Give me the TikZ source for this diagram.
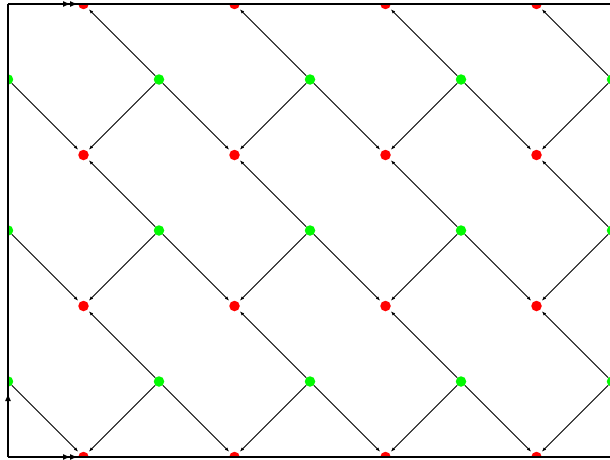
\documentclass[tikz,border=0pt]{standalone}
\usetikzlibrary{arrows.meta,decorations.markings}
\definecolor{dotred}{RGB}{255,0,0}
\definecolor{dotgreen}{RGB}{0,250,0}
\tikzset{
  reddot/.style={circle,fill=dotred,draw=none,inner sep=0pt,minimum size=10.5pt},
  greendot/.style={circle,fill=dotgreen,draw=none,inner sep=0pt,minimum size=10.5pt},
  edge/.style={draw=black,line width=0.8pt,-{Latex[length=4.5pt,width=3.4pt]},shorten >=2pt},
  frameline/.style={line width=1.8pt,black},
  fronttip/.tip={Latex[length=8pt,width=6pt]}
}
\begin{document}
\begin{tikzpicture}[x=75.5pt,y=75.5pt]
\useasboundingbox (-8pt,-2pt) rectangle (602pt,457pt);
\begin{scope}
  \clip (0,0) rectangle (8,6);
  \foreach \x in {1,3,5,7} \foreach \y in {0,2,4,6}
    \node[reddot] (r\x\y) at (\x,\y) {};
  \foreach \x in {0,2,4,6,8} \foreach \y in {1,3,5}
    \node[greendot] (g\x\y) at (\x,\y) {};
  \foreach \x in {0,2,4,6,8} \foreach \y in {1,3,5} {
    \pgfmathtruncatemacro\xl{\x-1}
    \pgfmathtruncatemacro\xr{\x+1}
    \pgfmathtruncatemacro\yu{\y+1}
    \pgfmathtruncatemacro\yd{\y-1}
    \ifnum\x>0
      \draw[edge] (g\x\y) -- (r\xl\yu);
      \draw[edge] (g\x\y) -- (r\xl\yd);
    \fi
    \ifnum\x<8
      \draw[edge] (g\x\y) -- (r\xr\yd);
    \fi
  }
\end{scope}
\coordinate (c00) at (0,0);
\coordinate (c06) at (0,6);
\coordinate (c86) at (8,6);
\coordinate (c80) at (8,0);
\draw[frameline,postaction={decorate},decoration={markings,
  mark=at position 64pt with {\arrow{fronttip}}}] (c00) -- (c06);
\draw[frameline,postaction={decorate},decoration={markings,
  mark=at position 63pt with {\arrow{fronttip}},
  mark=at position 70pt with {\arrow{fronttip}}}] (c06) -- (c86);
\draw[frameline,postaction={decorate},decoration={markings,
  mark=at position 63pt with {\arrow{fronttip}},
  mark=at position 70pt with {\arrow{fronttip}}}] (c00) -- (c80);
\draw[frameline] (c80) -- (c86);
\end{tikzpicture}
\end{document}
